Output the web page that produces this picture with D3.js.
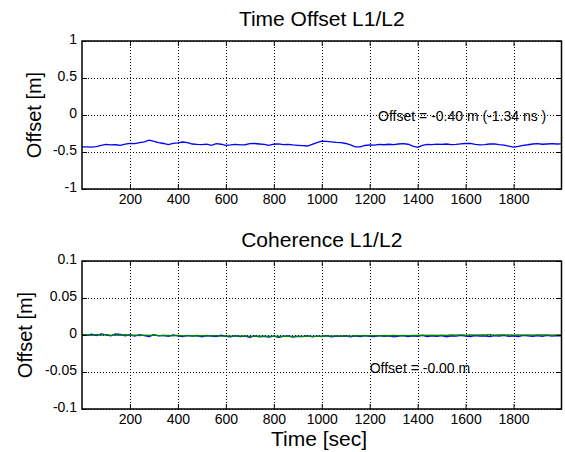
<!DOCTYPE html>
<head>
  <meta charset="utf-8">
  <style>
    body { margin: 0; background: #fff; }
    text { font-family: "Liberation Sans", Arial, sans-serif; fill: #000; }
  </style>
  <title>Time Offset / Coherence L1/L2</title>
</head>
<body>
  <script src="https://cdn.jsdelivr.net/npm/d3@7"></script>
  <script>
    // time axis, one sample every 20 sec
    var times = d3.range(0, 2001, 20);
    var xTicks = [200, 400, 600, 800, 1000, 1200, 1400, 1600, 1800];

    // L1/L2 time offset [m]
    var offsetL1L2 = [
      -0.430, -0.432, -0.435, -0.428, -0.410, -0.398, -0.405, -0.402, -0.410, -0.395,
      -0.383, -0.386, -0.374, -0.362, -0.340, -0.355, -0.372, -0.385, -0.400, -0.383,
      -0.378, -0.365, -0.372, -0.392, -0.398, -0.400, -0.394, -0.410, -0.388, -0.395,
      -0.410, -0.405, -0.398, -0.405, -0.402, -0.388, -0.385, -0.392, -0.398, -0.410,
      -0.395, -0.390, -0.400, -0.398, -0.405, -0.410, -0.415, -0.419, -0.398, -0.372,
      -0.352, -0.356, -0.362, -0.370, -0.374, -0.385, -0.405, -0.430, -0.432, -0.412,
      -0.405, -0.408, -0.398, -0.402, -0.395, -0.400, -0.392, -0.388, -0.395, -0.420,
      -0.437, -0.410, -0.396, -0.400, -0.394, -0.398, -0.392, -0.400, -0.396, -0.390,
      -0.385, -0.383, -0.398, -0.405, -0.400, -0.392, -0.390, -0.400, -0.408, -0.420,
      -0.433, -0.425, -0.410, -0.402, -0.392, -0.387, -0.395, -0.392, -0.388, -0.392,
      -0.390
    ];
    var offsetTicks = [-1, -0.5, 0, 0.5, 1];

    // coherence, two traces [m]
    var coherenceBlue = [
      0.0010, -0.0005, 0.0012, -0.0008, 0.0015, 0.0002, -0.0010, 0.0014, 0.0008, -0.0012,
      0.0003, -0.0015, 0.0006, -0.0009, -0.0020, 0.0004, -0.0013, -0.0006, -0.0018, 0.0002,
      -0.0011, -0.0022, -0.0004, -0.0016, -0.0009, -0.0025, -0.0007, -0.0014, -0.0021, -0.0003,
      -0.0018, -0.0026, -0.0010, -0.0022, -0.0015, -0.0030, -0.0012, -0.0024, -0.0019, -0.0028,
      -0.0016, -0.0031, -0.0020, -0.0011, -0.0027, -0.0018, -0.0023, -0.0009, -0.0025, -0.0014,
      -0.0021, -0.0008, -0.0026, -0.0015, -0.0019, -0.0010, -0.0024, -0.0013, -0.0020, -0.0007,
      -0.0017, -0.0023, -0.0009, -0.0019, -0.0012, -0.0026, -0.0014, -0.0008, -0.0021, -0.0011,
      -0.0018, -0.0006, -0.0022, -0.0013, -0.0017, -0.0009, -0.0024, -0.0012, -0.0016, -0.0005,
      -0.0014, -0.0020, -0.0007, -0.0016, -0.0011, -0.0023, -0.0009, -0.0015, -0.0004, -0.0018,
      -0.0010, -0.0021, -0.0006, -0.0013, -0.0017, -0.0008, -0.0019, -0.0005, -0.0014, -0.0009,
      -0.0012
    ];
    var coherenceGreen = [
      0.0005, 0.0002, -0.0003, 0.0006, -0.0001, 0.0004, -0.0004, 0.0001, -0.0002, 0.0003,
      -0.0005, -0.0001, -0.0007, -0.0003, -0.0006, -0.0002, -0.0008, -0.0004, -0.0007, -0.0010,
      -0.0006, -0.0012, -0.0008, -0.0011, -0.0007, -0.0013, -0.0009, -0.0012, -0.0010, -0.0014,
      -0.0011, -0.0015, -0.0012, -0.0016, -0.0013, -0.0018, -0.0014, -0.0017, -0.0015, -0.0019,
      -0.0016, -0.0020, -0.0015, -0.0018, -0.0021, -0.0016, -0.0019, -0.0015, -0.0018, -0.0014,
      -0.0017, -0.0013, -0.0016, -0.0012, -0.0015, -0.0011, -0.0014, -0.0010, -0.0013, -0.0009,
      -0.0012, -0.0008, -0.0011, -0.0007, -0.0010, -0.0006, -0.0009, -0.0005, -0.0008, -0.0004,
      -0.0007, -0.0003, -0.0006, -0.0002, -0.0005, -0.0001, -0.0004, 0.0000, -0.0003, 0.0001,
      -0.0002, 0.0002, -0.0001, 0.0003, 0.0000, 0.0004, -0.0001, 0.0002, 0.0000, 0.0003,
      -0.0001, 0.0002, -0.0002, 0.0001, -0.0001, 0.0003, 0.0000, 0.0002, -0.0001, 0.0001,
      0.0000
    ];
    var coherenceTicks = [-0.1, -0.05, 0, 0.05, 0.1];

    var width = 565;
    var height = 452;

    var svg = d3.select("body").append("svg")
      .attr("width", width)
      .attr("height", height)
      .style("display", "block");

    // shared x scale (both panels same columns)
    var xScale = d3.scaleLinear()
      .domain([0, 2000])
      .range([82, 561.5]);

    // plain ascii minus, no thousands comma
    var fmt = function(d) { return String(d) };

    function drawPanel(p) {
      var yScale = d3.scaleLinear()
        .domain(p.domain)
        .range([p.bottom, p.top]);
      var g = svg.append("g").attr("id", p.id);
      var x0 = xScale.range()[0], x1 = xScale.range()[1];

      // dotted grid
      g.append("g").selectAll("line").data(xTicks).enter().append("line")
        .attr("x1", function(d) { return Math.round(xScale(d)) + 0.5 })
        .attr("x2", function(d) { return Math.round(xScale(d)) + 0.5 })
        .attr("y1", p.top).attr("y2", p.bottom)
        .attr("stroke", "#000").attr("stroke-width", 1)
        .attr("stroke-dasharray", "1,2");
      g.append("g").selectAll("line").data(p.yTicks).enter().append("line")
        .attr("y1", function(d) { return Math.round(yScale(d)) + 0.5 })
        .attr("y2", function(d) { return Math.round(yScale(d)) + 0.5 })
        .attr("x1", x0).attr("x2", x1)
        .attr("stroke", "#000").attr("stroke-width", 1)
        .attr("stroke-dasharray", "1,2");

      // the traces
      p.series.forEach(function(s) {
        var line = d3.line()
          .x(function(d, i) { return xScale(times[i]) })
          .y(function(d) { return yScale(d) });
        g.append("path")
          .datum(s.values)
          .attr("d", line)
          .attr("fill", "none")
          .attr("stroke", s.color)
          .attr("stroke-width", 1.3);
      });

      // axes, ticks inward on all four sides (matlab box)
      g.append("g")
        .attr("transform", "translate(0," + p.bottom + ")")
        .call(d3.axisBottom(xScale).tickValues(xTicks).tickSizeInner(-5).tickSizeOuter(0).tickPadding(5).tickFormat(fmt))
        .call(function(a) {
          a.select(".domain").remove();
          a.selectAll("text").attr("font-size", 14).attr("font-family", "Liberation Sans, Arial, sans-serif");
        });
      g.append("g")
        .attr("transform", "translate(0," + p.top + ")")
        .call(d3.axisTop(xScale).tickValues(xTicks).tickSizeInner(-5).tickSizeOuter(0).tickFormat(""))
        .select(".domain").remove();
      g.append("g")
        .attr("transform", "translate(" + x0 + ",0)")
        .call(d3.axisLeft(yScale).tickValues(p.yTicks).tickSizeInner(-5).tickSizeOuter(0).tickPadding(5).tickFormat(fmt))
        .call(function(a) {
          a.select(".domain").remove();
          a.selectAll("text").attr("font-size", 14).attr("dy", "0.2em").attr("font-family", "Liberation Sans, Arial, sans-serif");
        });
      g.append("g")
        .attr("transform", "translate(" + x1 + ",0)")
        .call(d3.axisRight(yScale).tickValues(p.yTicks).tickSizeInner(-5).tickSizeOuter(0).tickFormat(""))
        .select(".domain").remove();

      // box
      g.append("rect")
        .attr("x", x0).attr("y", p.top)
        .attr("width", x1 - x0).attr("height", p.bottom - p.top)
        .attr("fill", "none").attr("stroke", "#000").attr("stroke-width", 1.5);

      // title, y label, note
      g.append("text")
        .attr("x", (x0 + x1) / 2).attr("y", p.titleY)
        .attr("text-anchor", "middle").attr("font-size", 21)
        .text(p.title);
      g.append("text")
        .attr("transform", "translate(" + p.ylabelX + "," + ((p.top + p.bottom) / 2) + ") rotate(-90)")
        .attr("text-anchor", "middle").attr("font-size", 20)
        .text("Offset [m]");
      g.append("text")
        .attr("x", xScale(p.note.t)).attr("y", yScale(p.note.v))
        .attr("font-size", 14)
        .text(p.note.text);
    }

    drawPanel({
      id: "offset", top: 41, bottom: 189, domain: [-1, 1], yTicks: offsetTicks,
      title: "Time Offset L1/L2", titleY: 26, ylabelX: 41,
      series: [{ values: offsetL1L2, color: "#0000ff" }],
      note: { t: 1235, v: -0.08, text: "Offset = -0.40 m  (-1.34 ns )" }
    });

    drawPanel({
      id: "coherence", top: 261, bottom: 409, domain: [-0.1, 0.1], yTicks: coherenceTicks,
      title: "Coherence L1/L2", titleY: 247, ylabelX: 32,
      series: [{ values: coherenceBlue, color: "#0000ff" }, { values: coherenceGreen, color: "#008000" }],
      note: { t: 1200, v: -0.0515, text: "Offset = -0.00 m" }
    });

    // x label
    svg.append("text")
      .attr("x", 319)
      .attr("y", 446)
      .attr("text-anchor", "middle").attr("font-size", 21)
      .text("Time [sec]");
  </script>
</body>
